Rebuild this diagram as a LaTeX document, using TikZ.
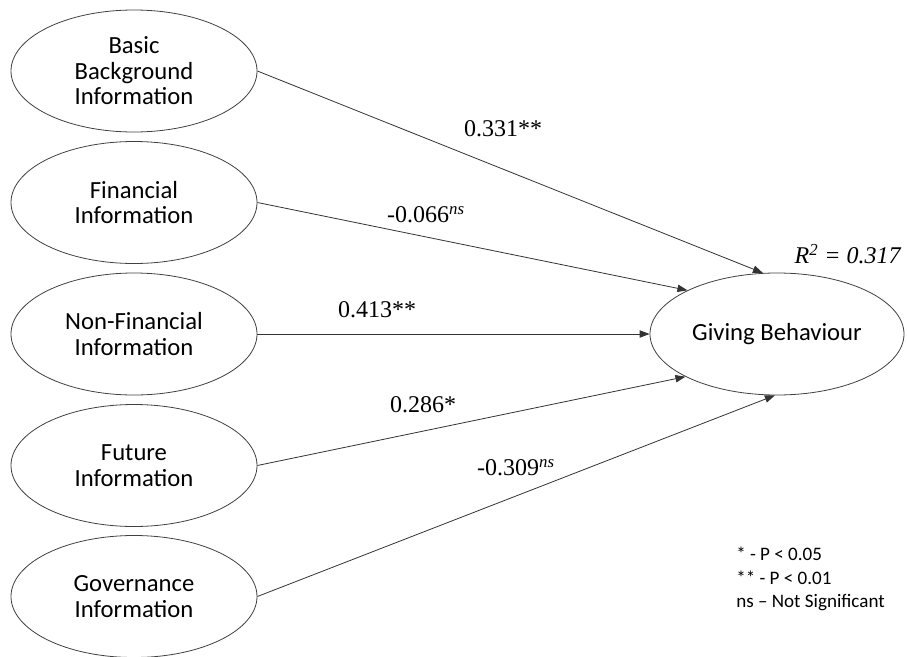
\documentclass[tikz,border=0pt]{standalone}
\usepackage{fontspec}
\setmainfont{Carlito}
\newfontfamily\tnr{Liberation Serif}
\usetikzlibrary{shapes.geometric,arrows.meta}
\begin{document}
\begin{tikzpicture}[x=0.75pt,y=-0.75pt,
  lat/.style={ellipse,draw=black!75,line width=0.6pt,minimum width=184.5pt,minimum height=91.5pt,inner sep=0pt,align=center,font=\fontsize{18.5}{19.1}\selectfont},
  pathline/.style={draw=black!80,line width=0.6pt,-{Triangle[length=7.5pt,width=5.5pt]}},
  coef/.style={font=\tnr\fontsize{18}{20}\selectfont,inner sep=0pt},
  legend/.style={font=\fontsize{14.3}{17.6}\selectfont,align=left,inner sep=0pt}]
\useasboundingbox (0,0) rectangle (907,657);
\node[lat] (n1) at (134,71) {Basic\\Background\\Information};
\node[lat] (n2) at (134,202.5) {Financial\\Information};
\node[lat] (n3) at (134,334) {Non-Financial\\Information};
\node[lat] (n4) at (134,465.5) {Future\\Information};
\node[lat] (n5) at (134,596.5) {Governance\\Information};
\node[lat,minimum width=190.5pt] (gb) at (777,334) {Giving Behaviour};
\draw[pathline] (n1.east) -- (gb.103);
\draw[pathline] (n2.east) -- (gb.154.5);
\draw[pathline] (n3.east) -- (gb.west);
\draw[pathline] (n4.east) -- (gb.205.5);
\draw[pathline] (n5.east) -- (gb.268);
\node[coef] (c1) at (503,129) {0.331**};
\node[coef] (c2) at (426,215) {-0.066\textsuperscript{\textit{ns}}};
\node[coef] (c3) at (377,310) {0.413**};
\node[coef] (c4) at (423,405) {0.286*};
\node[coef] (c5) at (516,468) {-0.309\textsuperscript{\textit{ns}}};
\node[coef] (r2) at (848,254) {\textit{R\textsuperscript{2} = 0.317}};
\node[legend,anchor=west] (leg) at (736,579) {* - P < 0.05\\** - P < 0.01\\ns – Not Significant};
\end{tikzpicture}
\end{document}
